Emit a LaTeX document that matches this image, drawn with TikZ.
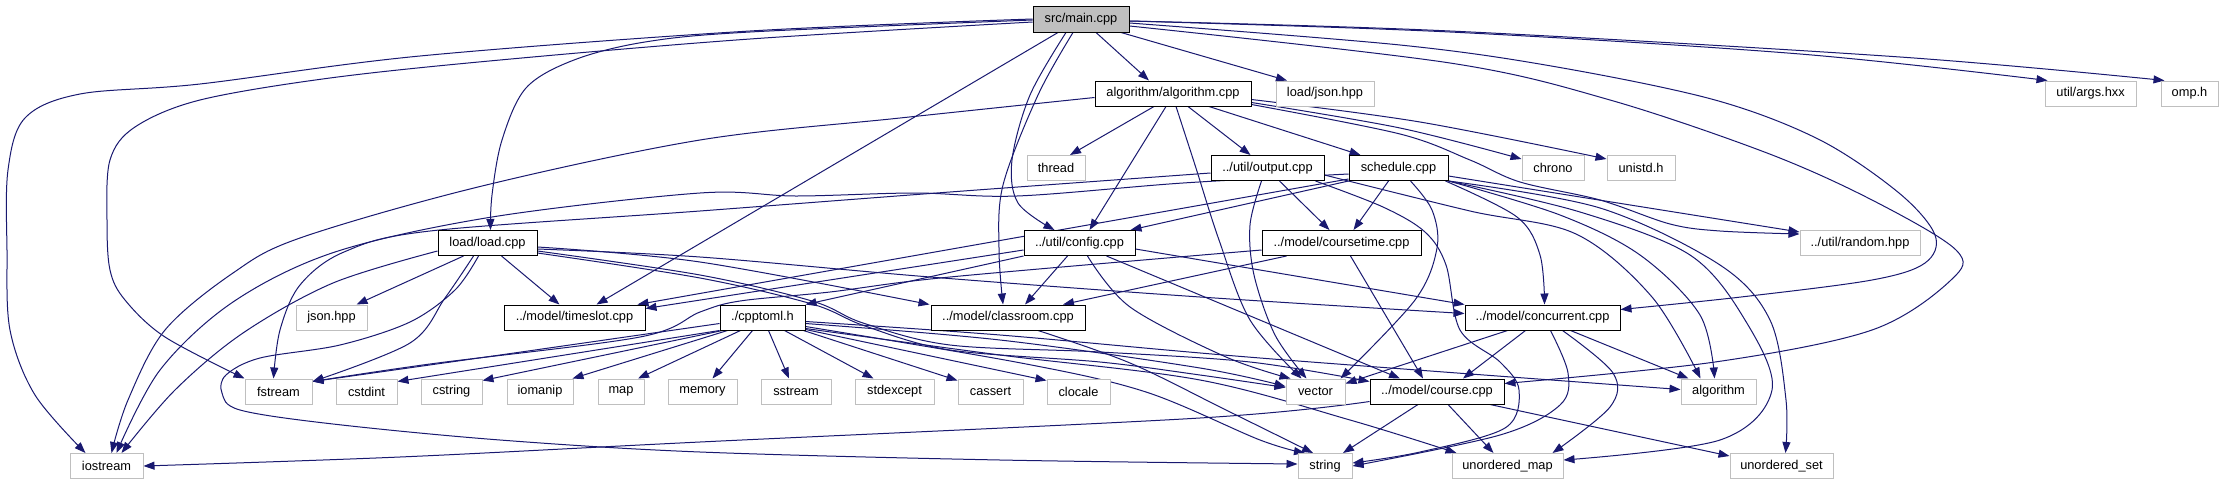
\documentclass[tikz,border=0pt]{standalone}
\usepackage{fontspec}
\setmainfont{Liberation Sans}
\usetikzlibrary{arrows.meta}
\definecolor{edgeblue}{HTML}{191970}
\definecolor{boxgray}{HTML}{BFBFBF}
\definecolor{mainfill}{HTML}{BFBFBF}
\newcommand\dgfont{\fontsize{12.8}{15}\selectfont}
\pgfdeclarelayer{background}
\pgfsetlayers{background,main}
\tikzset{
  proj/.style={draw=black, line width=1pt, fill=white, minimum height=25pt, inner sep=0pt, font=\dgfont},
  mainbox/.style={proj, fill=mainfill, minimum height=26pt},
  sys/.style={draw=boxgray, line width=1pt, fill=white, minimum height=25pt, inner sep=0pt, font=\dgfont},
  edge/.style={draw=edgeblue, line width=1pt, -{Triangle[length=11pt,width=8pt]}},
  sm/.style={smooth, tension=0.55}
}
\begin{document}
\begin{tikzpicture}[x=1pt,y=-1pt]
\useasboundingbox (0,0) rectangle (2223,485);
% row 0
\node[mainbox, minimum width=96pt] (main) at (1081,19) {src/main.cpp};
% row 1
\node[proj, minimum width=156pt] (algo) at (1173,93.5) {algorithm/algorithm.cpp};
\node[sys, minimum width=98pt] (jsonhpp) at (1325,93.5) {load/json.hpp};
\node[sys, minimum width=91pt] (args) at (2090.5,93.5) {util/args.hxx};
\node[sys, minimum width=57pt] (omp) at (2189.5,93.5) {omp.h};
% row 2
\node[sys, minimum width=58pt] (thread) at (1056,168) {thread};
\node[proj, minimum width=113pt] (output) at (1267.5,168) {../util/output.cpp};
\node[proj, minimum width=99pt] (schedule) at (1398.5,168) {schedule.cpp};
\node[sys, minimum width=62pt] (chrono) at (1553,168) {chrono};
\node[sys, minimum width=68pt] (unistd) at (1641,168) {unistd.h};
% row 3
\node[proj, minimum width=99pt] (load) at (487.5,243) {load/load.cpp};
\node[proj, minimum width=111pt] (config) at (1079.5,243) {../util/config.cpp};
\node[proj, minimum width=159pt] (coursetime) at (1341.5,243) {../model/coursetime.cpp};
\node[sys, minimum width=120pt] (random) at (1860,243) {../util/random.hpp};
% row 4
\node[sys, minimum width=71pt] (json) at (331.5,317.5) {json.hpp};
\node[proj, minimum width=141pt] (timeslot) at (574.5,317.5) {../model/timeslot.cpp};
\node[proj, minimum width=85pt] (cpptoml) at (762.5,317.5) {./cpptoml.h};
\node[proj, minimum width=154pt] (classroom) at (1008,317.5) {../model/classroom.cpp};
\node[proj, minimum width=155pt] (concurrent) at (1542.5,317.5) {../model/concurrent.cpp};
% row 5
\node[sys, minimum width=67pt] (fstream) at (278.5,391.5) {fstream};
\node[sys, minimum width=61pt] (cstdint) at (366.5,391.5) {cstdint};
\node[sys, minimum width=61pt] (cstring) at (451.5,391.5) {cstring};
\node[sys, minimum width=66pt] (iomanip) at (540,391.5) {iomanip};
\node[sys, minimum width=46pt] (map) at (621,391.5) {map};
\node[sys, minimum width=69pt] (memory) at (702.5,391.5) {memory};
\node[sys, minimum width=70pt] (sstream) at (796,391.5) {sstream};
\node[sys, minimum width=79pt] (stdexcept) at (894.5,391.5) {stdexcept};
\node[sys, minimum width=65pt] (cassert) at (990.5,391.5) {cassert};
\node[sys, minimum width=63pt] (clocale) at (1078.5,391.5) {clocale};
\node[sys, minimum width=59pt] (vector) at (1315.5,391.5) {vector};
\node[proj, minimum width=134pt] (course) at (1437,391.5) {../model/course.cpp};
\node[sys, minimum width=75pt] (algorithm) at (1718.5,391.5) {algorithm};
% row 6
\node[sys, minimum width=73pt] (iostream) at (106.5,466) {iostream};
\node[sys, minimum width=54pt] (string) at (1325,466) {string};
\node[sys, minimum width=111pt] (umap) at (1507.5,466) {unordered\_map};
\node[sys, minimum width=103pt] (uset) at (1781.5,466) {unordered\_set};

\begin{pgfonlayer}{background}
\fill[white] (0,0) rectangle (2223,485);
% ---- main.cpp
\draw[edge] plot[sm] coordinates {(main.west) (750,31) (420,56) (200,84) (80,94) (25,118) (8,170) (7,250) (10,330) (35,395) ([xshift=-21pt]iostream.north)};
\draw[edge] plot[sm] coordinates {([yshift=-3pt]main.west) (750,39) (500,60) (330,78) (200,100) (135,127) (110,160) (107,220) (110,270) (125,300) (165,337) (fstream.north west)};
\draw[edge] plot[sm] coordinates {([yshift=-1pt]main.west) (750,32) (645,42) (574,60) (526,88) (502,140) (492,195) ([xshift=3pt]load.north)};
\draw[edge] ([xshift=-23pt]main.south) -- ([xshift=22pt]timeslot.north);
\draw[edge] plot[sm] coordinates {([xshift=-15pt]main.south) (1030,95) (1012,160) (1018,203) ([xshift=-25pt]config.north)};
\draw[edge] plot[sm] coordinates {([xshift=-8pt]main.south) (1038,95) (1003,185) (999,250) ([xshift=-5pt]classroom.north)};
\draw[edge] ([xshift=15pt]main.south) -- ([xshift=-24pt]algo.north);
\draw[edge] ([xshift=40pt]main.south) -- ([xshift=-38pt]jsonhpp.north);
\draw[edge] plot[sm] coordinates {([yshift=-2pt]main.east) (1450,32) (1800,54) ([xshift=3pt]args.north west)};
\draw[edge] plot[sm] coordinates {([yshift=-2pt]main.east) (1450,31) (1900,57) ([xshift=4pt]omp.north west)};
\draw[edge] plot[sm] coordinates {([yshift=-4pt]main.east) (1400,45) (1557,67) (1715,100) (1820,140) (1899,193) (1935,235) (1925,263) (1872,280) (1741,297) ([yshift=8pt]concurrent.east)};
\draw[edge] plot[sm] coordinates {([yshift=-7pt]main.east) (1450,63) (1610,100) (1767,153) (1872,200) (1956,250) (1951,280) (1872,330) (1715,362) ([yshift=8pt]course.east)};
% ---- algorithm.cpp
\draw[edge] plot[sm] coordinates {([yshift=-4pt]algo.west) (900,118) (700,140) (478,187) (300,238) (233,273) (165,330) (128,400) ([xshift=5pt]iostream.north)};
\draw[edge] ([xshift=-19pt]algo.south) -- ([xshift=14pt]thread.north);
\draw[edge] ([xshift=-7pt]algo.south) -- ([xshift=10pt]config.north);
\draw[edge] plot[sm] coordinates {([xshift=3pt]algo.south) (1195,165) (1219,240) (1250,320) ([xshift=-14pt]vector.north)};
\draw[edge] ([xshift=15pt]algo.south) -- ([xshift=-17pt]output.north);
\draw[edge] ([xshift=36pt]algo.south) -- ([xshift=-38pt]schedule.north);
\draw[edge] plot[sm] coordinates {([yshift=4pt]algo.south east) (1400,128) ([yshift=-4pt]chrono.north west)};
\draw[edge] plot[sm] coordinates {([yshift=7pt]algo.south east) (1420,122) ([yshift=-4pt]unistd.north west)};
\draw[edge] plot[sm] coordinates {([yshift=2pt]algo.south east) (1400,134) (1470,160) (1520,182) (1600,200) (1670,224) (1720,231) ([yshift=9pt]random.west)};
% ---- output.cpp
\draw[edge] plot[sm] coordinates {([yshift=-5pt]output.west) (950,192) (700,211) (430,231) (344,252) (300,285) (280,330) ([xshift=-5pt]fstream.north)};
\draw[edge] ([xshift=12pt]output.south) -- ([xshift=-12pt]coursetime.north);
\draw[edge] plot[sm] coordinates {([xshift=-6pt]output.south) (1250,225) (1254,275) (1275,335) ([xshift=-9pt]vector.north)};
\draw[edge] plot[sm] coordinates {([xshift=48pt]output.south) (1383,207) (1425,232) (1446,265) (1460,330) (1500,362) (1519,390) (1505,428) (1420,452) ([yshift=3pt]string.east)};
\draw[edge] plot[sm] coordinates {([yshift=-7pt]output.east) (1470,211) (1576,234) (1652,297) ([xshift=-18pt]algorithm.north)};
% ---- schedule.cpp
\draw[edge] plot[sm] coordinates {([yshift=-6pt]schedule.west) (1183,183) (1017,196) (915,193) (796,196) (700,193) (492,217) (335,252) (233,302) (160,370) ([xshift=10pt]iostream.north)};
\draw[edge] ([yshift=2pt]schedule.south west) -- ([xshift=-8pt]timeslot.north east);
\draw[edge] (schedule.south west) -- ([xshift=-5pt]config.north east);
\draw[edge] ([xshift=-10pt]schedule.south) -- ([xshift=12pt]coursetime.north);
\draw[edge] plot[sm] coordinates {([xshift=12pt]schedule.south) (1432,210) (1437,248) (1415,300) ([xshift=-5pt]vector.north east)};
\draw[edge] plot[sm] coordinates {([xshift=-3pt]schedule.south east) (1517,217) (1540,255) ([xshift=2pt]concurrent.north)};
\draw[edge] ([yshift=-8pt]schedule.east) -- ([yshift=11pt]random.west);
\draw[edge] plot[sm] coordinates {(schedule.south east) (1560,215) (1640,255) (1700,315) ([xshift=-4pt]algorithm.north)};
\draw[edge] plot[sm] coordinates {(schedule.south east) (1580,212) (1690,255) (1745,320) (1772,390) (1720,440) ([yshift=6pt]umap.east)};
\draw[edge] plot[sm] coordinates {(schedule.south east) (1600,208) (1720,265) (1770,320) (1786,400) ([xshift=4pt]uset.north)};
% ---- coursetime.cpp
\draw[edge] plot[sm] coordinates {([yshift=-7pt]coursetime.west) (950,277) (830,292) (740,301) (700,312) (640,337) (430,364) ([yshift=-3pt]fstream.north east)};
\draw[edge] ([xshift=-55pt]coursetime.south) -- ([xshift=55pt]classroom.north);
\draw[edge] ([xshift=9pt]coursetime.south) -- ([xshift=-14pt]course.north);
% ---- config.cpp
\draw[edge] ([yshift=-7pt]config.west) -- ([yshift=-4pt]timeslot.north east);
\draw[edge] (config.south west) -- (cpptoml.north east);
\draw[edge] ([xshift=-12pt]config.south) -- ([xshift=17pt]classroom.north);
\draw[edge] plot[sm] coordinates {([xshift=8pt]config.south) (1130,307) (1226,357) ([xshift=-25pt]vector.north)};
\draw[edge] ([xshift=27pt]config.south) -- ([xshift=-37pt]course.north);
\draw[edge] ([yshift=-6pt]config.east) -- (concurrent.north west);
% ---- load.cpp
\draw[edge] ([xshift=-24pt]load.south) -- ([xshift=25pt]json.north);
\draw[edge] ([xshift=14pt]load.south) -- ([xshift=-15pt]timeslot.north);
\draw[edge] plot[sm] coordinates {([yshift=-8pt]load.west) (333,283) (243,333) (175,390) ([xshift=15pt]iostream.north)};
\draw[edge] plot[sm] coordinates {([xshift=-14pt]load.south) (445,298) (410,343) ([yshift=-3pt]fstream.north east)};
\draw[edge] plot[sm] coordinates {([xshift=-9pt]load.south) (455,290) (410,322) (340,345) (260,358) (226,375) (222,393) (240,410) (333,424) (500,440) (700,452) (1000,460) ([yshift=2pt]string.west)};
\draw[edge] plot[sm] coordinates {([yshift=-4pt]load.east) (700,262) ([xshift=-1pt]classroom.north west)};
\draw[edge] plot[sm] coordinates {([yshift=-6pt]load.east) (700,257) (930,277) (1200,297) ([yshift=4pt]concurrent.west)};
\draw[edge] plot[sm] coordinates {([yshift=-8pt]load.east) (700,275) (812,301) (863,323) (950,345) (1100,352) (1250,362) ([yshift=10pt]course.west)};
\draw[edge] plot[sm] coordinates {([yshift=-10pt]load.east) (700,278) (812,304) (865,326) (950,350) (1100,362) (1200,375) ([yshift=4pt]vector.west)};
% ---- cpptoml.h
\draw[edge] plot[sm] coordinates {([yshift=-6pt]cpptoml.west) (500,355) ([yshift=-3pt]fstream.north east)};
\draw[edge] (cpptoml.south west) -- ([yshift=-3pt]cstdint.north east);
\draw[edge] ([xshift=3pt]cpptoml.south west) -- ([yshift=-2pt]cstring.north east);
\draw[edge] ([xshift=8pt]cpptoml.south west) -- ([xshift=-1pt]iomanip.north east);
\draw[edge] ([xshift=-22pt]cpptoml.south) -- ([xshift=17pt]map.north);
\draw[edge] ([xshift=-10pt]cpptoml.south) -- ([xshift=10pt]memory.north);
\draw[edge] ([xshift=6pt]cpptoml.south) -- ([xshift=-7pt]sstream.north);
\draw[edge] ([xshift=22pt]cpptoml.south) -- ([xshift=-21pt]stdexcept.north);
\draw[edge] ([xshift=-2pt]cpptoml.south east) -- ([yshift=-2pt]cassert.north west);
\draw[edge] ([yshift=-12pt]cpptoml.east) -- ([yshift=-2pt]clocale.north west);
\draw[edge] plot[sm] coordinates {([yshift=-4pt]cpptoml.east) (1000,335) (1260,358) ([yshift=2pt]algorithm.west)};
\draw[edge] plot[sm] coordinates {([yshift=-6pt]cpptoml.east) (1000,340) (1200,368) ([yshift=5pt]vector.west)};
\draw[edge] plot[sm] coordinates {([yshift=-9pt]cpptoml.east) (1021,363) (1146,392) (1260,440) ([xshift=-20pt]string.north)};
\draw[edge] plot[sm] coordinates {([yshift=-11pt]cpptoml.east) (1000,355) (1200,380) (1350,420) ([xshift=5pt]umap.north west)};
% ---- classroom.cpp
\draw[edge] plot[sm] coordinates {([xshift=30pt]classroom.south) (1130,363) (1226,410) ([xshift=-12pt]string.north)};
% ---- concurrent.cpp
\draw[edge] ([xshift=-35pt]concurrent.south) -- ([yshift=8pt]vector.east);
\draw[edge] ([xshift=-17pt]concurrent.south) -- ([xshift=26pt]course.north);
\draw[edge] plot[sm] coordinates {([xshift=8pt]concurrent.south) (1568,373) (1560,405) (1500,435) (string.east)};
\draw[edge] plot[sm] coordinates {([xshift=20pt]concurrent.south) (1613,373) (1610,407) ([xshift=45pt]umap.north)};
\draw[edge] ([xshift=28pt]concurrent.south) -- ([xshift=-30pt]algorithm.north);
% ---- course.cpp
\draw[edge] plot[sm] coordinates {([yshift=-10pt]course.west) (1200,418) (700,442) (400,457) (iostream.east)};
\draw[edge] ([xshift=-19pt]course.south) -- ([xshift=18pt]string.north);
\draw[edge] ([xshift=11pt]course.south) -- ([xshift=-14pt]umap.north);
\draw[edge] ([xshift=53pt]course.south) -- ([yshift=-3pt]uset.north west);
\end{pgfonlayer}
\end{tikzpicture}
\end{document}
